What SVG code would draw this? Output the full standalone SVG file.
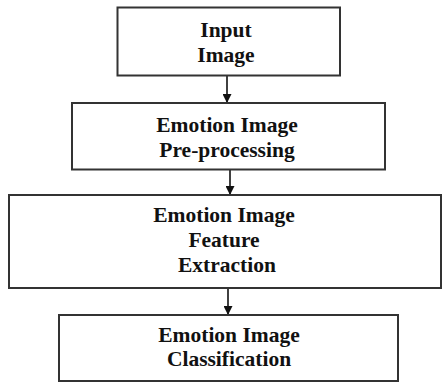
<svg xmlns="http://www.w3.org/2000/svg" width="442" height="383" viewBox="0 0 442 383">
<defs>
<marker id="ah" viewBox="0 0 10 10" refX="10" refY="5" markerWidth="9" markerHeight="9" markerUnits="userSpaceOnUse" orient="auto">
<path d="M0,0 L10,5 L0,10 z" fill="#111"/>
</marker>
<style>
.box{fill:#fff;stroke:#333;stroke-width:2}
.t{font-family:"Liberation Serif","Times New Roman",serif;font-weight:bold;font-size:21.5px;fill:#111;text-anchor:middle}
.c{stroke:#111;stroke-width:1.6;fill:none}
</style>
</defs>
<rect width="442" height="383" fill="#fff"/>
<g id="connectors">
<line class="c" x1="227" y1="76" x2="227" y2="103" marker-end="url(#ah)"/>
<line class="c" x1="230" y1="170" x2="230" y2="195" marker-end="url(#ah)"/>
<line class="c" x1="228" y1="288" x2="228" y2="315" marker-end="url(#ah)"/>
</g>
<g id="n1">
<rect class="box" x="117.5" y="7.5" width="222.5" height="68"/>
<text class="t" x="226" y="37">Input</text>
<text class="t" x="226" y="62">Image</text>
</g>
<g id="n2">
<rect class="box" x="72" y="103" width="313" height="66.5"/>
<text class="t" x="227" y="132">Emotion Image</text>
<text class="t" x="227" y="157">Pre-processing</text>
</g>
<g id="n3">
<rect class="box" x="9" y="195" width="432" height="93"/>
<text class="t" x="224" y="222">Emotion Image</text>
<text class="t" x="224" y="247">Feature</text>
<text class="t" x="227" y="272">Extraction</text>
</g>
<g id="n4">
<rect class="box" x="59" y="315" width="339" height="66"/>
<text class="t" x="229" y="342">Emotion Image</text>
<text class="t" x="229" y="366">Classification</text>
</g>
</svg>
